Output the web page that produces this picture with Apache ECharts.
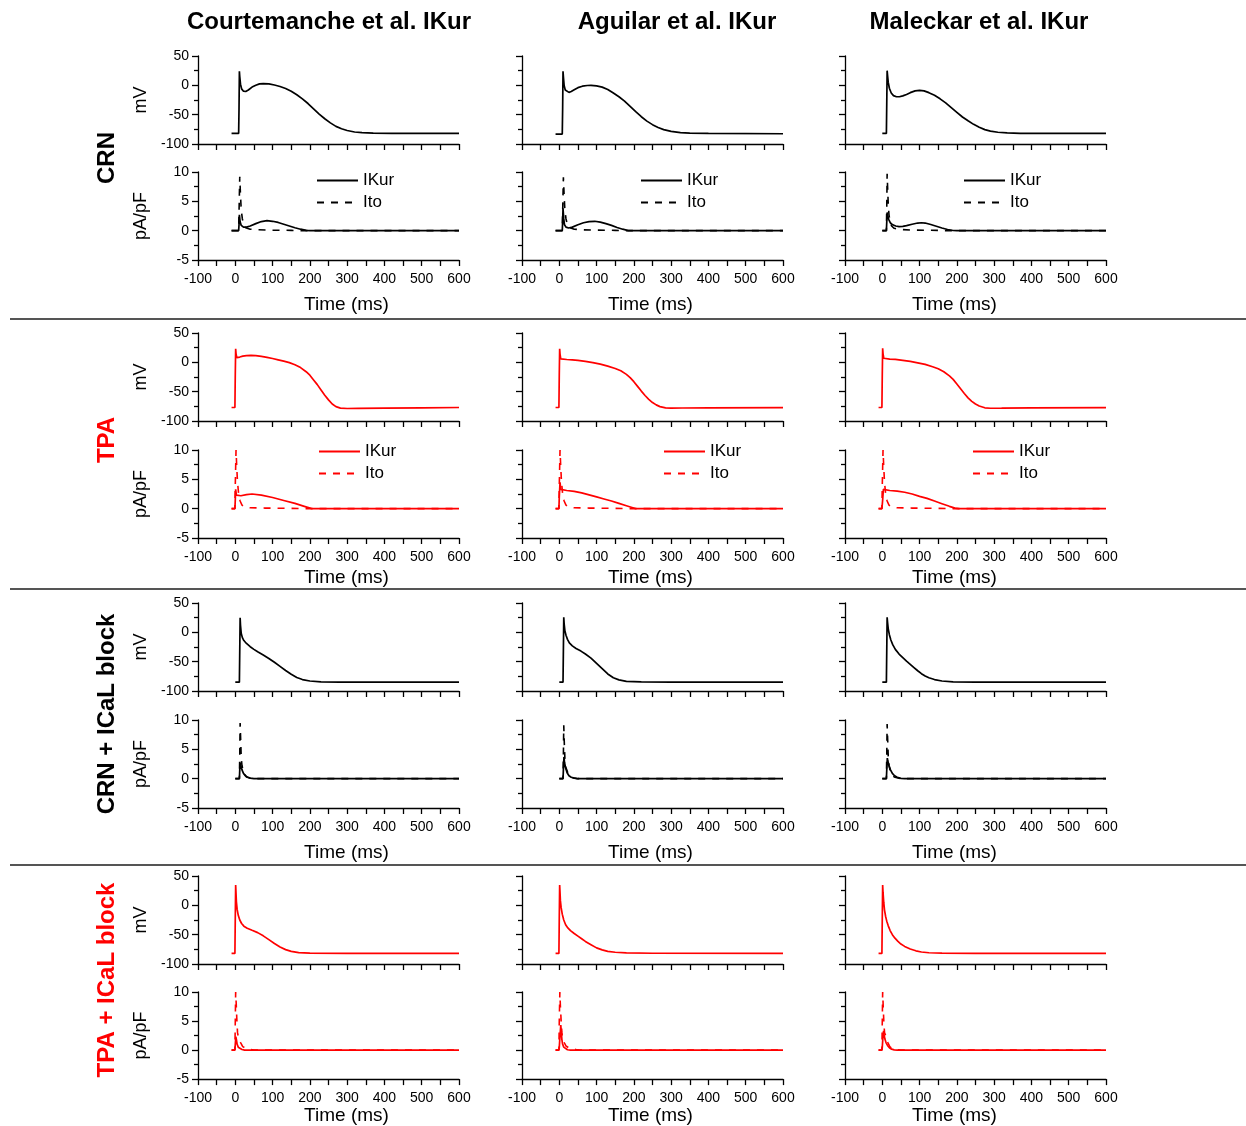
<!DOCTYPE html>
<html>
<head>
<meta charset="utf-8">
<script src="https://cdn.jsdelivr.net/npm/echarts@6/dist/echarts.min.js"></script>
<style>
html,body{margin:0;padding:0;background:#fff;}
#chart{width:1246px;height:1126px;}
</style>
</head>
<body>
<div id="chart"></div>
<script>
// ---------------- DATA ----------------
const columnTitles = ['Courtemanche et al. IKur', 'Aguilar et al. IKur', 'Maleckar et al. IKur'];
const rowLabels = ['CRN', 'TPA', 'CRN + ICaL block', 'TPA + ICaL block'];
const rowModels = ['CRN', 'TPA', 'CRNb', 'TPAb'];
const timeTicks = [-100, 0, 100, 200, 300, 400, 500, 600];
const mvTicks = [-100, -50, 0, 50];
const currentTicks = [-5, 0, 5, 10];
const currentNames = ['IKur', 'Ito'];

// Row 1: CRN model — [time ms, mV] / [time ms, pA/pF]
const apCrnCourt = [[-10,-82],[9,-82],[10,-40],[11,24],[12,15],[14,2],[17,-6],[22,-10],[28,-10.5],[35,-8],[45,-3],[55,0],[65,2.5],[75,3],[90,2.5],[105,0.5],[120,-2],[135,-5.5],[150,-10],[165,-16],[180,-23],[195,-31],[210,-40],[225,-49],[240,-57],[255,-64],[270,-70],[285,-74],[300,-77],[320,-79.5],[340,-80.5],[370,-81.3],[420,-81.8],[500,-82],[600,-82]];
const ikurCrnCourt = [[-10,0],[9,0],[10,1],[11,2.7],[13,1.5],[16,0.9],[22,0.6],[30,0.6],[40,0.8],[55,1.2],[70,1.55],[85,1.7],[100,1.6],[115,1.4],[130,1.1],[145,0.8],[160,0.5],[175,0.25],[190,0.05],[200,0],[600,0]];
const itoCrnCourt = [[-10,0],[9,0],[10,3],[12,9.2],[14,6],[16,3.5],[19,2],[23,1],[28,0.5],[40,0.25],[60,0.15],[100,0.1],[150,0.05],[180,0],[600,0]];

const apCrnAgui = [[-10,-83],[8,-83],[9,-40],[10,24],[11,15],[13,0],[16,-8],[20,-11],[26,-12],[32,-10.5],[40,-7.5],[50,-4],[62,-1.5],[75,-0.3],[85,0],[100,-1],[115,-3],[130,-7],[145,-13],[160,-19.5],[175,-27],[190,-36],[205,-45],[220,-53.5],[235,-61],[250,-67],[265,-72],[280,-75.5],[300,-78.5],[325,-80.5],[350,-81.3],[400,-82],[600,-82.5]];
const ikurCrnAgui = [[-10,0],[8,0],[9,1.5],[10,3.8],[12,2],[14,1],[18,0.6],[25,0.45],[35,0.6],[50,1.0],[65,1.35],[80,1.55],[95,1.6],[110,1.45],[125,1.2],[140,0.9],[155,0.55],[170,0.25],[185,0.02],[195,0],[600,0]];
const itoCrnAgui = [[-10,0],[8,0],[9,3],[11,9.1],[13,6],[15,3.5],[18,2],[22,1],[28,0.5],[40,0.25],[60,0.15],[100,0.1],[150,0.05],[175,0],[600,0]];

const apCrnMale = [[0,-82],[11,-82],[12,-30],[13,25],[14,18],[16,5],[19,-5],[24,-13],[30,-17.5],[38,-19.5],[46,-19.5],[55,-18],[65,-15.5],[75,-12.5],[88,-9.5],[100,-8.5],[112,-9.5],[125,-12.5],[140,-17],[155,-23],[170,-30],[185,-38],[200,-46],[215,-54],[230,-60.5],[245,-66.5],[260,-71.5],[275,-75.5],[290,-78],[310,-80],[335,-81.2],[370,-81.8],[450,-82],[600,-82]];
const ikurCrnMale = [[0,0],[11,0],[12,1.5],[13,3.1],[15,2.4],[18,1.8],[22,1.3],[28,1.0],[36,0.8],[45,0.7],[55,0.72],[65,0.85],[80,1.1],[95,1.3],[105,1.35],[115,1.3],[130,1.05],[145,0.75],[160,0.45],[175,0.2],[190,0.03],[200,0],[600,0]];
const itoCrnMale = [[0,0],[11,0],[12,4],[13,9.7],[14.5,7],[16,4.5],[18,2.7],[21,1.5],[25,0.8],[32,0.4],[45,0.2],[80,0.1],[150,0.05],[170,0],[600,0]];

// Row 2: TPA model
const apTpaCourt = [[-10,-77],[-1,-77],[0,-20],[1,23],[2,15],[4,8],[7,7],[12,9],[20,10.5],[30,11.5],[42,12],[55,11.5],[70,10.2],[85,8.5],[100,6.5],[115,4.3],[130,2],[145,-0.5],[160,-4],[175,-9],[190,-16],[200,-22],[210,-30],[220,-38],[230,-47],[240,-56],[250,-64],[260,-71],[270,-75.5],[282,-78],[300,-78.7],[330,-78.5],[400,-78],[500,-77.5],[600,-77]];
const ikurTpaCourt = [[-10,0],[-1,0],[0,1.5],[1,3.3],[3,2.3],[6,2.1],[15,2.2],[30,2.4],[45,2.5],[70,2.3],[100,1.9],[130,1.4],[160,0.9],[185,0.4],[205,0],[600,0]];
const itoTpaCourt = [[-10,0],[-1,0],[0,4],[2,10],[4,7],[6,4.5],[9,2.5],[13,1.3],[18,0.6],[25,0.3],[40,0.15],[80,0.1],[150,0.05],[200,0],[600,0]];

const apTpaAgui = [[-10,-77],[-1,-77],[0,-20],[1,23],[2,14],[4,6],[8,5],[20,4.8],[35,4.2],[50,3.2],[70,1.5],[90,-0.5],[110,-3],[130,-6.5],[150,-10.5],[165,-14.5],[180,-20.5],[190,-26],[200,-33],[210,-41],[220,-49],[230,-56.5],[240,-63],[250,-68.5],[260,-72.5],[270,-75.5],[285,-77.5],[300,-78],[330,-77.8],[400,-77.5],[600,-77.2]];
const ikurTpaAgui = [[-10,0],[-1,0],[0,2],[2,4.5],[4,3.3],[6,3.1],[20,3.1],[40,2.95],[60,2.7],[80,2.35],[100,2.0],[120,1.65],[140,1.3],[160,0.9],[180,0.5],[195,0.2],[205,0],[600,0]];
const itoTpaAgui = [[-10,0],[-1,0],[0,4],[2,10],[4,7],[6,4.5],[9,2.5],[13,1.3],[18,0.6],[25,0.3],[40,0.15],[80,0.1],[150,0.05],[200,0],[600,0]];

const apTpaMale = [[-10,-77],[-1,-77],[0,-20],[1,24],[2,15],[4,7],[8,6],[20,5.5],[35,5],[55,3.4],[75,1.5],[95,-0.8],[115,-3.5],[135,-7.5],[150,-11],[165,-16],[180,-23],[190,-29],[200,-37],[210,-45],[220,-53],[230,-60.5],[240,-66.5],[250,-71],[260,-74.5],[275,-77.5],[290,-78.3],[320,-78.2],[400,-77.7],[600,-77.2]];
const ikurTpaMale = [[-10,0],[-1,0],[1,1.5],[3,3.3],[5,3.1],[20,3.1],[40,3.0],[60,2.8],[80,2.5],[100,2.1],[120,1.75],[140,1.3],[160,0.85],[180,0.4],[195,0.1],[205,0],[600,0]];
const itoTpaMale = [[-10,0],[-1,0],[0,4],[2,10],[4,7],[6,4.5],[9,2.5],[13,1.3],[18,0.6],[25,0.3],[40,0.15],[80,0.1],[150,0.05],[200,0],[600,0]];

// Row 3: CRN + ICaL block
const apCrnbCourt = [[0,-85],[11,-85],[12,-30],[13,25],[14,12],[16,-2],[19,-9],[23,-14],[30,-19],[40,-24.5],[50,-29],[60,-33],[75,-38.5],[90,-44.5],[105,-51],[120,-58],[135,-65],[150,-71.5],[165,-77],[180,-80.5],[200,-83],[230,-84.3],[280,-84.8],[600,-85]];
const ikurCrnbCourt = [[0,0],[11,0],[12,1.5],[13,2.7],[15,2.2],[18,1.5],[22,0.9],[27,0.5],[33,0.25],[40,0.1],[50,0],[600,0]];
const itoCrnbCourt = [[0,0],[11,0],[12,4],[13,9.5],[14.5,6.5],[16,3.5],[18,2.2],[21,1.5],[24,0.8],[30,0.3],[40,0.1],[50,0],[600,0]];

const apCrnbAgui = [[0,-85],[10,-85],[11,-30],[12,25.5],[13,15],[15,3],[18,-5],[22,-12],[27,-18],[35,-23],[45,-27.5],[58,-32],[70,-37],[85,-44],[100,-53],[115,-62],[130,-71],[145,-77.5],[160,-81],[180,-83.5],[220,-84.5],[300,-85],[600,-85]];
const ikurCrnbAgui = [[0,0],[10,0],[11,1.5],[12.5,3.7],[14,2.8],[17,1.8],[21,1.0],[26,0.5],[32,0.25],[40,0.08],[48,0],[600,0]];
const itoCrnbAgui = [[0,0],[10,0],[11,4],[12,9.1],[13.5,6],[15,3.5],[17,2],[20,1.5],[24,0.8],[30,0.3],[40,0.1],[50,0],[600,0]];

const apCrnbMale = [[0,-85],[11,-85],[12,-30],[13,25.5],[14,18],[16,6],[19,-4],[23,-13],[28,-21],[35,-29],[45,-37],[55,-43],[65,-49],[75,-54.5],[85,-60],[95,-65.5],[105,-70.5],[115,-74.5],[125,-77.5],[140,-80.5],[160,-83],[190,-84.3],[250,-84.8],[600,-85]];
const ikurCrnbMale = [[0,0],[11,0],[12,1.5],[13.5,3.5],[15,3.0],[18,2.2],[22,1.5],[27,0.9],[33,0.5],[40,0.25],[50,0.05],[60,0],[600,0]];
const itoCrnbMale = [[0,0],[11,0],[12,4],[13,9.3],[14.5,6.5],[16,3.8],[18,2.3],[21,1.4],[25,0.7],[32,0.3],[42,0.1],[52,0],[600,0]];

// Row 4: TPA + ICaL block
const apTpabCourt = [[-10,-82],[-1,-82],[0,-20],[1,34.5],[2,20],[3,6],[5,-7],[8,-17],[12,-25],[17,-31],[23,-35.5],[32,-39],[45,-42.5],[60,-46.5],[75,-52],[90,-58.5],[105,-65],[120,-71],[135,-75.5],[150,-78.5],[170,-80.5],[200,-81.5],[300,-82],[600,-82]];
const ikurTpabCourt = [[-10,0],[-1,0],[0,1],[1.5,2.3],[3,1.8],[5,1.0],[8,0.5],[12,0.25],[18,0.1],[25,0],[600,0]];
const itoTpabCourt = [[-10,0],[-1,0],[0,5],[1,10],[2.5,8],[4,5.5],[6,3],[9,2],[12,1.8],[15,1.2],[20,0.6],[27,0.35],[32,0.3],[40,0.1],[50,0],[600,0]];

const apTpabAgui = [[-10,-82],[-1,-82],[0,-20],[1,34.5],[2,22],[3,8],[5,-4],[8,-15],[12,-25],[17,-33],[23,-38.5],[30,-43],[40,-48],[50,-52.5],[60,-57],[70,-61.5],[85,-67],[100,-72.5],[115,-76],[130,-78.5],[150,-80],[180,-81.2],[250,-81.7],[600,-82]];
const ikurTpabAgui = [[-10,0],[-1,0],[0,0.5],[2,2.5],[4,4.3],[5.5,3],[7,1.8],[9,1.0],[12,0.5],[16,0.2],[22,0.05],[30,0],[600,0]];
const itoTpabAgui = [[-10,0],[-1,0],[0,5],[1.5,10],[3,7.5],[5,5],[7,3],[9,2],[11,1.8],[14,1.2],[18,0.7],[25,0.4],[35,0.25],[45,0.1],[55,0],[600,0]];

const apTpabMale = [[-10,-82],[-1,-82],[0,-20],[1,34.5],[2,22],[4,4.5],[6,-8],[9,-19],[12,-27],[16,-35],[21,-43],[27,-50],[34,-56],[42,-61.5],[50,-66],[60,-70],[75,-74.5],[90,-77.5],[105,-79.5],[125,-80.8],[160,-81.5],[250,-81.8],[600,-82]];
const ikurTpabMale = [[-10,0],[-1,0],[0,0.5],[2,2.5],[3.5,3.3],[5,2.6],[7,1.9],[10,1.3],[14,0.8],[19,0.4],[25,0.15],[32,0.03],[40,0],[600,0]];
const itoTpabMale = [[-10,0],[-1,0],[0,5],[1,10],[2.5,7.5],[4,5],[6,3],[9,2.5],[12,2.0],[15,1.3],[20,0.6],[28,0.2],[40,0.05],[50,0],[600,0]];

const apData = [
  [apCrnCourt, apCrnAgui, apCrnMale],
  [apTpaCourt, apTpaAgui, apTpaMale],
  [apCrnbCourt, apCrnbAgui, apCrnbMale],
  [apTpabCourt, apTpabAgui, apTpabMale]
];
const ikurData = [
  [ikurCrnCourt, ikurCrnAgui, ikurCrnMale],
  [ikurTpaCourt, ikurTpaAgui, ikurTpaMale],
  [ikurCrnbCourt, ikurCrnbAgui, ikurCrnbMale],
  [ikurTpabCourt, ikurTpabAgui, ikurTpabMale]
];
const itoData = [
  [itoCrnCourt, itoCrnAgui, itoCrnMale],
  [itoTpaCourt, itoTpaAgui, itoTpaMale],
  [itoCrnbCourt, itoCrnbAgui, itoCrnbMale],
  [itoTpabCourt, itoTpabAgui, itoTpabMale]
];

// ---------------- LAYOUT / STYLE ----------------
const FONT = '"Liberation Sans", Arial, sans-serif';
const rowColors = ['#000000', '#ff0000', '#000000', '#ff0000'];
const colLeft = [198, 522, 845];
const plotW = 261;
const plotH = 88;
const vTop = [56, 333, 603, 876];
const iTop = [172, 450, 720, 992];
const timeNameGap = [35, 30, 35, 26];
const timeNamePad = [[0, 0, 0, 36], [0, 4, 0, 0], [0, 42, 0, 0]];
const legendLeft = [[316, 640, 963], [318, 663, 972]];
const legendTop = [172, 443];
const DASH = [7, 7];

const grids = [], xAxes = [], yAxes = [], series = [], legends = [];
const axisLineStyle = { color: '#000', width: 1.3 };

function addPanel(r, c, isCurrent) {
  const idx = grids.length;
  grids.push({ left: colLeft[c], top: isCurrent ? iTop[r] : vTop[r], width: plotW, height: plotH, containLabel: false });
  const yt = isCurrent ? currentTicks : mvTicks;
  xAxes.push({
    type: 'value', gridIndex: idx,
    min: timeTicks[0], max: timeTicks[timeTicks.length - 1], interval: timeTicks[1] - timeTicks[0],
    axisLine: { show: true, onZero: false, lineStyle: axisLineStyle },
    axisTick: { show: true, inside: false, length: 6, lineStyle: axisLineStyle },
    minorTick: { show: true, splitNumber: 2, length: 6, lineStyle: axisLineStyle },
    splitLine: { show: false },
    axisLabel: { show: isCurrent, color: '#000', fontSize: 14, fontFamily: FONT, margin: 12, hideOverlap: false },
    name: isCurrent ? 'Time (ms)' : '',
    nameLocation: 'middle', nameGap: timeNameGap[r],
    nameTextStyle: { color: '#000', fontSize: 19, fontFamily: FONT, padding: timeNamePad[c] }
  });
  yAxes.push({
    type: 'value', gridIndex: idx,
    min: yt[0], max: yt[yt.length - 1], interval: yt[1] - yt[0],
    axisLine: { show: true, onZero: false, lineStyle: axisLineStyle },
    axisTick: { show: true, inside: false, length: 6, lineStyle: axisLineStyle },
    minorTick: { show: true, splitNumber: 2, length: 4, lineStyle: axisLineStyle },
    splitLine: { show: false },
    axisLabel: { show: c === 0, color: '#000', fontSize: 14, fontFamily: FONT, margin: 9 },
    name: c === 0 ? (isCurrent ? 'pA/pF' : 'mV') : '',
    nameLocation: 'middle', nameGap: 48,
    nameTextStyle: { color: '#000', fontSize: 18, fontFamily: FONT }
  });
  return idx;
}

for (let r = 0; r < 4; r++) {
  for (let c = 0; c < 3; c++) {
    const color = rowColors[r];
    const vi = addPanel(r, c, false);
    series.push({
      type: 'line', name: rowModels[r] + ':AP', xAxisIndex: vi, yAxisIndex: vi,
      data: apData[r][c], showSymbol: false, symbol: 'none', animation: false,
      lineStyle: { color: color, width: 1.7 }, itemStyle: { color: color }
    });
    const ii = addPanel(r, c, true);
    series.push({
      type: 'line', name: rowModels[r] + ':' + currentNames[1], xAxisIndex: ii, yAxisIndex: ii,
      data: itoData[r][c], showSymbol: false, symbol: 'none', animation: false,
      lineStyle: { color: color, width: 1.6, type: DASH }, itemStyle: { color: color }
    });
    series.push({
      type: 'line', name: rowModels[r] + ':' + currentNames[0], xAxisIndex: ii, yAxisIndex: ii,
      data: ikurData[r][c], showSymbol: false, symbol: 'none', animation: false,
      lineStyle: { color: color, width: 1.7 }, itemStyle: { color: color }
    });
    if (r < 2) {
      legends.push({
        data: currentNames.map(n => rowModels[r] + ':' + n),
        formatter: n => n.split(':')[1],
        orient: 'vertical', left: legendLeft[r][c], top: legendTop[r],
        itemWidth: 41, itemHeight: 14, itemGap: 5, padding: 0,
        selectedMode: false,
        itemStyle: { opacity: 0, borderWidth: 0 },
        textStyle: { color: '#000', fontSize: 17, fontFamily: FONT }
      });
    }
  }
}

const graphics = [];
const colCenters = [329, 677, 979];
columnTitles.forEach((t, i) => graphics.push({
  type: 'text', x: colCenters[i], y: 22,
  style: { text: t, font: 'bold 24px ' + FONT, fill: '#000', textAlign: 'center', textVerticalAlign: 'middle' }
}));
const rowCenters = [158, 440, 714, 980];
rowLabels.forEach((t, i) => graphics.push({
  type: 'text', x: 107, y: rowCenters[i], rotation: Math.PI / 2,
  style: { text: t, font: 'bold 24px ' + FONT, fill: rowColors[i], textAlign: 'center', textVerticalAlign: 'middle' }
}));
[319, 589, 865].forEach(y => graphics.push({
  type: 'line', shape: { x1: 10, y1: y, x2: 1246, y2: y },
  style: { stroke: '#555', lineWidth: 2 }
}));

const chart = echarts.init(document.getElementById('chart'), null, { renderer: 'canvas' });
chart.setOption({
  backgroundColor: '#fff',
  animation: false,
  grid: grids, xAxis: xAxes, yAxis: yAxes, series: series, legend: legends,
  graphic: graphics
});
</script>
</body>
</html>
